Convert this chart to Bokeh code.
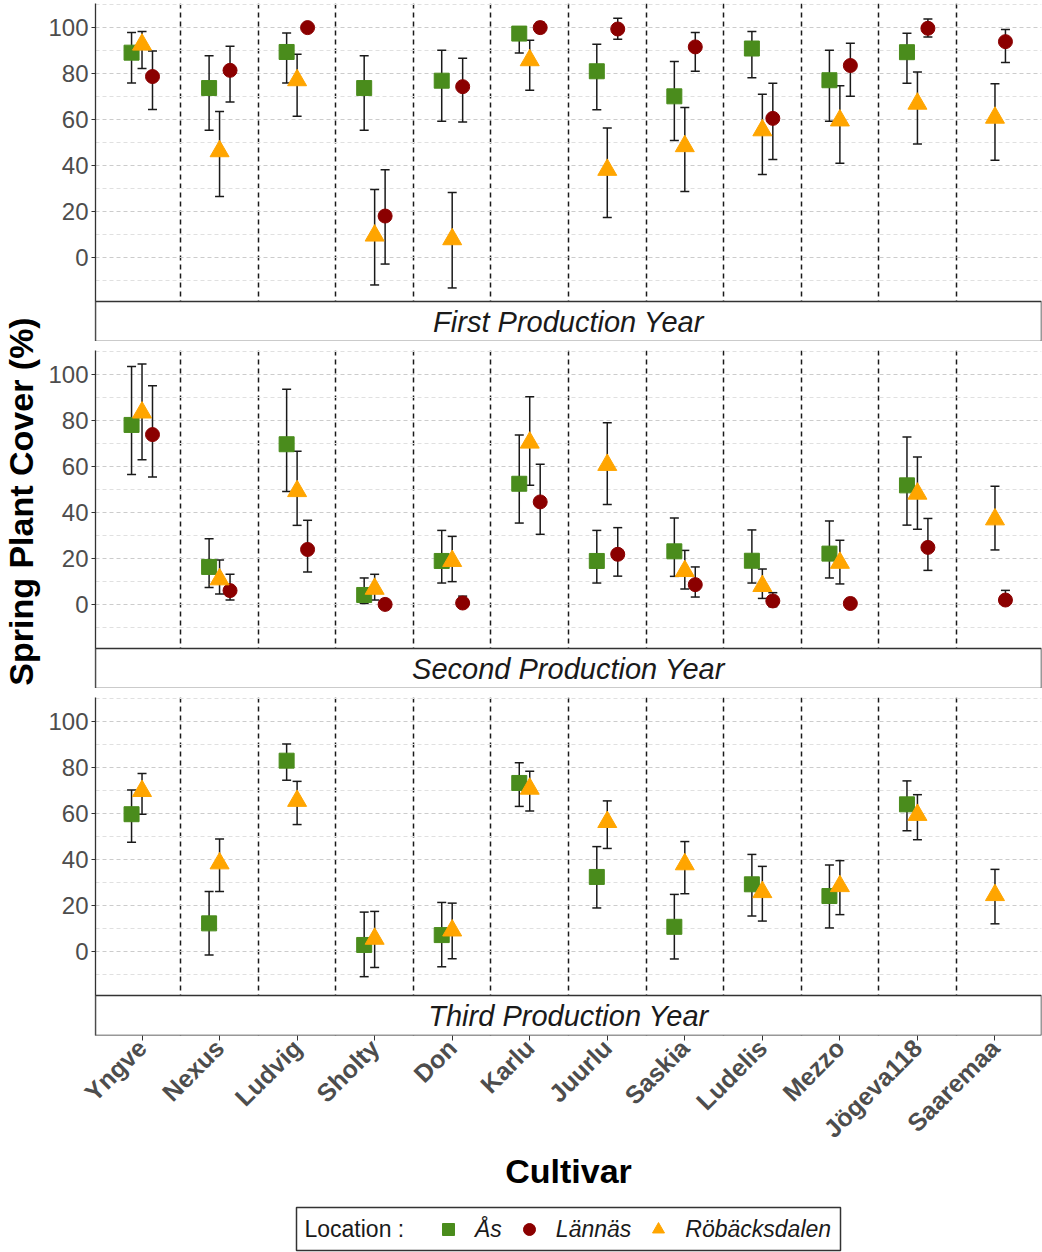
import math
from bokeh.plotting import figure
from bokeh.models import (ColumnDataSource, Range1d, FixedTicker, Whisker, TeeHead,
                          BoxAnnotation, Label, Legend, LegendItem)
from bokeh.layouts import column, row
from bokeh.transform import dodge
from bokeh.embed import file_html
from bokeh.resources import INLINE

N = None

cultivars = ["Yngve", "Nexus", "Ludvig", "Sholty", "Don", "Karlu", "Juurlu",
             "Saskia", "Ludelis", "Mezzo", "Jögeva118", "Saaremaa"]
years = ["First Production Year", "Second Production Year", "Third Production Year"]
locations = ["Ås", "Lännäs", "Röbäcksdalen"]

# ---- First production year ----
as_mean_1 = [89.1, 73.7, 89.4, 73.7, 76.9, 97.4, 81.0, 70.1, 90.9, 77.1, 89.3, N]
as_lo_1 = [75.9, 55.3, 75.9, 55.3, 59.3, 89.0, 64.3, 50.9, 78.2, 59.2, 75.8, N]
as_hi_1 = [97.9, 87.8, 97.7, 87.8, 90.1, 100.0, 92.8, 85.3, 98.3, 90.1, 97.6, N]
la_mean_1 = [78.7, 81.4, 100.0, 18.0, 74.3, 100.0, 99.4, 91.6, 60.5, 83.5, 99.7, 93.9]
la_lo_1 = [64.4, 67.6, 98.1, -2.9, 58.9, 97.9, 94.9, 81.0, 42.6, 70.1, 95.9, 84.8]
la_hi_1 = [89.8, 91.9, 101.5, 38.1, 86.7, 102.3, 104.1, 97.9, 75.8, 93.2, 103.7, 99.2]
ro_mean_1 = [92.6, 46.2, 77.1, 9.5, 7.9, 85.8, 38.1, 48.4, 55.3, 59.6, 66.9, 60.8]
ro_lo_1 = [82.2, 26.5, 61.4, -12.0, -13.3, 72.7, 17.4, 28.7, 36.1, 41.0, 49.4, 42.3]
ro_hi_1 = [98.3, 63.5, 88.4, 29.5, 28.2, 94.5, 56.3, 65.2, 71.0, 74.7, 80.7, 75.6]

# ---- Second production year ----
as_mean_2 = [78.1, 16.3, 69.7, 4.1, 18.9, 52.5, 18.9, 23.1, 19.0, 22.1, 51.8, N]
as_lo_2 = [56.5, 7.3, 49.1, 0.4, 9.3, 35.4, 9.3, 12.2, 9.3, 11.5, 34.5, N]
as_hi_2 = [103.5, 28.6, 93.6, 11.5, 32.2, 73.7, 32.2, 37.6, 32.4, 36.3, 72.9, N]
la_mean_2 = [73.9, 6.0, 23.9, 0.0, 0.6, 44.6, 21.8, 8.6, 1.5, 0.4, 24.8, 1.9]
la_lo_2 = [55.4, 1.9, 14.1, -1.2, -0.8, 30.5, 12.3, 3.2, -1.0, -1.5, 14.8, 0.0]
la_hi_2 = [95.2, 13.1, 36.6, 1.2, 3.6, 61.0, 33.4, 16.3, 5.1, 2.6, 37.4, 6.1]
ro_mean_2 = [83.5, 10.9, 49.3, 6.8, 18.9, 70.4, 60.7, 14.5, 8.0, 18.1, 48.2, 37.0]
ro_lo_2 = [63.0, 4.5, 34.4, 1.9, 9.9, 51.8, 43.5, 6.7, 2.6, 8.9, 32.7, 23.7]
ro_hi_2 = [104.6, 19.3, 66.6, 13.1, 29.6, 90.4, 79.1, 23.5, 15.4, 27.9, 64.2, 51.4]

# ---- Third production year ----
as_mean_3 = [59.7, 12.2, 83.0, 2.8, 7.1, 73.3, 32.4, 10.7, 29.2, 24.1, 64.0, N]
as_lo_3 = [47.5, -1.6, 74.5, -11.0, -6.7, 63.1, 18.9, -3.3, 15.4, 10.2, 52.5, N]
as_hi_3 = [70.2, 26.1, 90.3, 17.1, 21.3, 82.1, 45.6, 24.8, 42.2, 37.6, 74.2, N]
la_mean_3 = [N] * 12
la_lo_3 = [N] * 12
la_hi_3 = [N] * 12
ro_mean_3 = [69.8, 38.3, 65.5, 5.5, 9.1, 70.8, 56.3, 37.9, 25.8, 28.4, 59.4, 24.5]
ro_lo_3 = [59.7, 26.1, 55.2, -7.0, -3.2, 61.1, 44.8, 25.1, 13.2, 16.0, 48.6, 12.0]
ro_hi_3 = [77.4, 48.9, 74.0, 17.4, 21.0, 78.4, 65.5, 47.8, 37.0, 39.5, 68.2, 35.7]

y_ticks = [0, 20, 40, 60, 80, 100]
y_minor = [-10, 10, 30, 50, 70, 90, 110]

table = {
    (0, "Ås"): (as_mean_1, as_lo_1, as_hi_1),
    (0, "Lännäs"): (la_mean_1, la_lo_1, la_hi_1),
    (0, "Röbäcksdalen"): (ro_mean_1, ro_lo_1, ro_hi_1),
    (1, "Ås"): (as_mean_2, as_lo_2, as_hi_2),
    (1, "Lännäs"): (la_mean_2, la_lo_2, la_hi_2),
    (1, "Röbäcksdalen"): (ro_mean_2, ro_lo_2, ro_hi_2),
    (2, "Ås"): (as_mean_3, as_lo_3, as_hi_3),
    (2, "Lännäs"): (la_mean_3, la_lo_3, la_hi_3),
    (2, "Röbäcksdalen"): (ro_mean_3, ro_lo_3, ro_hi_3),
}

style = {
    "Ås": dict(marker="square", color="#4a8c1c", size=15, offset=-0.135),
    "Lännäs": dict(marker="circle", color="#8b0000", size=14, offset=0.135),
    "Röbäcksdalen": dict(marker="triangle", color="#ffa500", size=19, offset=0.0),
}

# shared y scale (ggplot-like 5% expansion)
vals = []
for (m, lo, hi) in table.values():
    vals += [v for v in lo + hi if v is not None]
ymin, ymax = min(vals), max(vals)
span = ymax - ymin
y_lo, y_hi = ymin - 0.05 * span, ymax + 0.05 * span

FONT = "Liberation Sans"
TITLE_W = 44
FRAME_W = 946
PANEL_H = 298
STRIP_H = 40
x_start, x_end = 0.4, len(cultivars) + 0.6
strip_units = (y_hi - y_lo) * STRIP_H / PANEL_H

figs = []
for yi, year in enumerate(years):
    last = yi == len(years) - 1
    p = figure(frame_width=FRAME_W, frame_height=PANEL_H + STRIP_H,
               x_range=Range1d(x_start, x_end),
               y_range=Range1d(y_lo - strip_units, y_hi),
               output_backend="svg", toolbar_location=None,
               x_axis_location="below" if last else None,
               min_border_left=95 - TITLE_W, min_border_right=1,
               min_border_top=3 if yi == 0 else 9,
               min_border_bottom=160 if last else 0)
    p.outline_line_color = None
    p.background_fill_color = "white"

    # grids
    p.ygrid.ticker = FixedTicker(ticks=y_ticks, minor_ticks=y_minor)
    p.ygrid.grid_line_color = "#cccccc"
    p.ygrid.grid_line_dash = "4 3"
    p.ygrid.grid_line_width = 1
    p.ygrid.minor_grid_line_color = "#e0e0e0"
    p.ygrid.minor_grid_line_dash = "4 3"
    p.xgrid.ticker = FixedTicker(ticks=[i + 1.5 for i in range(len(cultivars) - 1)])
    p.xgrid.grid_line_color = "#1a1a1a"
    p.xgrid.grid_line_dash = "5 4"
    p.xgrid.grid_line_width = 1.5

    # y axis
    yax = p.yaxis[0]
    yax.ticker = FixedTicker(ticks=y_ticks, minor_ticks=[])
    yax.major_label_text_font = FONT
    yax.major_label_text_font_size = "24px"
    yax.major_label_text_color = "#4d4d4d"
    yax.axis_line_color = "#333333"
    yax.axis_line_width = 1.3
    yax.major_tick_line_color = "#333333"
    yax.major_tick_out = 4
    yax.major_tick_in = 0
    yax.minor_tick_line_color = None
    yax.major_label_standoff = 3

    for loc in locations:
        m, lo, hi = table[(yi, loc)]
        xs, ms, los, his = [], [], [], []
        for ci, name in enumerate(cultivars):
            if m[ci] is None:
                continue
            xs.append(ci + 1)
            ms.append(m[ci])
            los.append(lo[ci])
            his.append(hi[ci])
        src = ColumnDataSource(dict(x=xs, mean=ms, lo=los, hi=his))
        st = style[loc]
        p.scatter(x=dodge("x", st["offset"]), y="mean", source=src,
                  marker=st["marker"], size=st["size"],
                  fill_color=st["color"], line_color=st["color"])
        w = Whisker(source=src, base=dodge("x", st["offset"]), upper="hi", lower="lo",
                    dimension="height", line_color="#1a1a1a", line_width=1.5,
                    upper_head=TeeHead(size=9, line_color="#1a1a1a", line_width=1.5),
                    lower_head=TeeHead(size=9, line_color="#1a1a1a", line_width=1.5))
        p.add_layout(w)

    # facet strip (below each panel)
    strip = BoxAnnotation(left=x_start, right=x_end, top=y_lo, bottom=y_lo - strip_units,
                          fill_color="white", fill_alpha=1.0,
                          line_color="#333333", line_alpha=1.0, line_width=1.5)
    p.add_layout(strip)
    p.add_layout(Label(x=(x_start + x_end) / 2, y=y_lo - strip_units / 2, text=year,
                       text_align="center", text_baseline="middle",
                       text_font=FONT, text_font_style="italic",
                       text_font_size="29px", text_color="#1a1a1a"))

    if last:
        xax = p.xaxis[0]
        xax.ticker = FixedTicker(ticks=list(range(1, len(cultivars) + 1)), minor_ticks=[])
        xax.major_label_overrides = {i + 1: c for i, c in enumerate(cultivars)}
        xax.major_label_orientation = math.pi / 4
        xax.major_label_text_font = FONT
        xax.major_label_text_font_style = "bold"
        xax.major_label_text_font_size = "25px"
        xax.major_label_text_color = "#4d4d4d"
        xax.axis_line_color = None
        xax.major_tick_line_color = "#333333"
        xax.major_tick_out = 5
        xax.major_tick_in = 0
        xax.minor_tick_line_color = None
        xax.major_label_standoff = 3
        xax.axis_label = "Cultivar"
        xax.axis_label_text_font = FONT
        xax.axis_label_text_font_style = "bold"
        xax.axis_label_text_font_size = "34px"
        xax.axis_label_text_color = "black"
        xax.axis_label_standoff = -4
    figs.append(p)

# y-axis title spanning all panels
panels_h = 3 + 2 * 9 + 3 * (PANEL_H + STRIP_H)
tfig = figure(width=TITLE_W, height=panels_h, x_range=Range1d(0, TITLE_W),
              y_range=Range1d(0, panels_h), output_backend="svg", toolbar_location=None,
              x_axis_location=None, y_axis_location=None, min_border=0)
tfig.outline_line_color = None
tfig.xgrid.visible = False
tfig.ygrid.visible = False
tfig.add_layout(Label(x=TITLE_W / 2 - 2, y=panels_h - 501, text="Spring Plant Cover (%)",
                      angle=math.pi / 2, text_align="center", text_baseline="middle",
                      text_font=FONT, text_font_style="bold", text_font_size="34px",
                      text_color="black"))

# legend strip (key glyphs only; the renderers hold no visible points)
LEG_W, LEG_H = 1042, 57
lfig = figure(width=LEG_W, height=LEG_H, x_range=Range1d(0, LEG_W), y_range=Range1d(0, LEG_H),
              output_backend="svg", toolbar_location=None,
              x_axis_location=None, y_axis_location=None, min_border=0)
lfig.outline_line_color = None
lfig.xgrid.visible = False
lfig.ygrid.visible = False
items = []
nan = float("nan")
for loc in locations:
    st = style[loc]
    r = lfig.scatter(x=[nan], y=[nan], marker=st["marker"], fill_color=st["color"],
                     line_color=st["color"])
    items.append(LegendItem(label=loc, renderers=[r]))
legend = Legend(items=items, orientation="horizontal", location=(433, 8))
legend.label_text_font = FONT
legend.label_text_font_style = "italic"
legend.label_text_font_size = "23px"
legend.label_text_color = "#1a1a1a"
legend.border_line_color = None
legend.background_fill_alpha = 0
legend.glyph_width = 30
legend.glyph_height = 30
legend.label_standoff = 12
legend.spacing = 12
legend.padding = 0
legend.margin = 0
lfig.add_layout(legend, "center")
lfig.add_layout(BoxAnnotation(left=296, right=840, bottom=2, top=45, fill_alpha=0,
                              line_color="#333333", line_alpha=1.0, line_width=1.5))
lfig.add_layout(Label(x=304, y=23.5, text="Location :", text_align="left",
                      text_baseline="middle", text_font=FONT, text_font_size="23px",
                      text_color="#1a1a1a"))

layout = column(row(tfig, column(*figs, spacing=0), spacing=0), lfig, spacing=0)
open("out.html", "w").write(file_html(layout, INLINE))
